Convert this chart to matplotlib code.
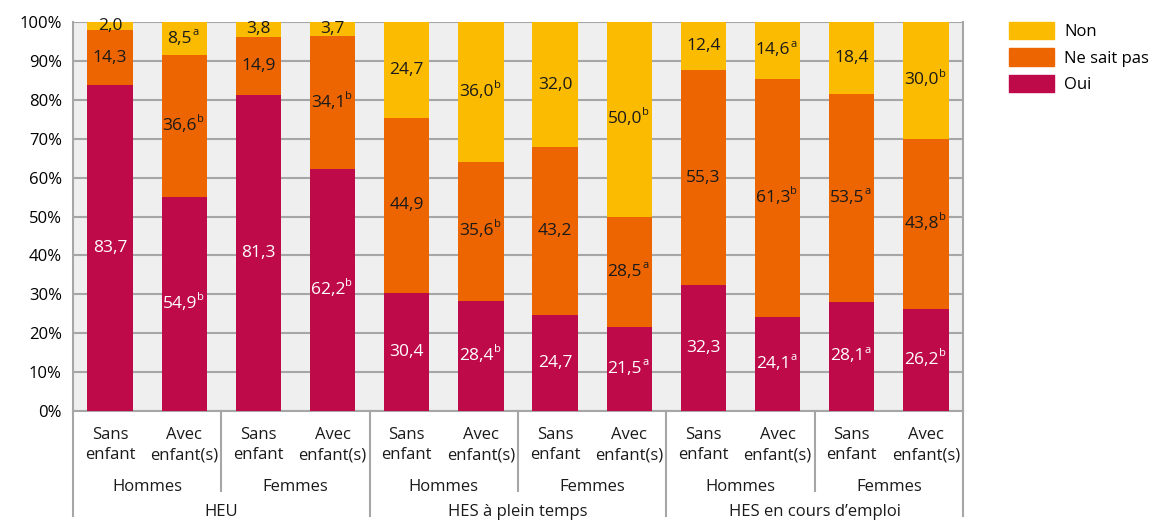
import matplotlib
matplotlib.use("Agg")
import matplotlib.pyplot as plt
import numpy as np
from matplotlib.patches import Patch

plt.rcParams['font.family'] = ['Open Sans', 'DejaVu Sans']

subcats = ["Sans\nenfant", "Avec\nenfant(s)"] * 6
genders = ["Hommes", "Femmes"] * 3
groups = ["HEU", "HES à plein temps", "HES en cours d’emploi"]

oui = [83.7, 54.9, 81.3, 62.2, 30.4, 28.4, 24.7, 21.5, 32.3, 24.1, 28.1, 26.2]
nsp = [14.3, 36.6, 14.9, 34.1, 44.9, 35.6, 43.2, 28.5, 55.3, 61.3, 53.5, 43.8]
non = [2.0, 8.5, 3.8, 3.7, 24.7, 36.0, 32.0, 50.0, 12.4, 14.6, 18.4, 30.0]
oui_sup = ["", "b", "", "b", "", "b", "", "a", "", "a", "a", "b"]
nsp_sup = ["", "b", "", "b", "", "b", "", "a", "", "b", "a", "b"]
non_sup = ["", "a", "", "", "", "b", "", "b", "", "a", "", "b"]

c_oui = "#BE0A48"
c_nsp = "#EC6500"
c_non = "#FBBB00"

fig = plt.figure(figsize=(11.53, 5.21), dpi=100)
ax = fig.add_axes([73/1153, 1 - 411/521, 890/1153, 389/521])
ax.set_facecolor("#EFEFEF")

x = np.arange(len(oui))
w = 0.61
oui_a = np.array(oui); nsp_a = np.array(nsp); non_a = np.array(non)
ax.bar(x, oui_a, w, color=c_oui, zorder=3)
ax.bar(x, nsp_a, w, bottom=oui_a, color=c_nsp, zorder=3)
ax.bar(x, non_a, w, bottom=oui_a + nsp_a, color=c_non, zorder=3)

ax.set_xlim(-0.5, len(oui) - 0.5)
ax.set_ylim(0, 100)
ax.set_yticks(np.arange(0, 101, 10))
ax.set_yticklabels([f"{v}%" for v in range(0, 101, 10)], fontsize=12)
ax.tick_params(axis='y', length=0, pad=8)
ax.set_xticks([])
ax.grid(axis='y', color="#A6A6A6", lw=1.5, zorder=1)
ax.set_axisbelow(True)
ax.spines["top"].set_visible(False)
for s in ["left", "right", "bottom"]:
    ax.spines[s].set_color("#A6A6A6")
    ax.spines[s].set_linewidth(1.5)

fs = 12.5

def label(xi, y, val, sup, color):
    txt = f"{val:.1f}".replace(".", ",")
    off = -0.06 if sup else 0
    t = ax.text(xi + off, y, txt, ha='center', va='center', fontsize=fs, color=color, zorder=5)
    if sup:
        ax.annotate(sup, xy=(1.0, 0.55), xycoords=t, fontsize=8, color=color,
                    ha='left', va='bottom', zorder=5)

for i in range(len(oui)):
    label(x[i], oui[i] / 2, oui[i], oui_sup[i], "white")
    label(x[i], oui[i] + nsp[i] / 2, nsp[i], nsp_sup[i], "#1a1a1a")
    label(x[i], oui[i] + nsp[i] + non[i] / 2, non[i], non_sup[i], "#1a1a1a")

trans = ax.get_xaxis_transform()
H = 389.0
def yf(px):
    return (411 - px) / H

for i, s in enumerate(subcats):
    ax.text(x[i], yf(445), s, transform=trans, ha='center', va='center', fontsize=12,
            linespacing=1.35, color="#1a1a1a")
for j, g in enumerate(genders):
    ax.text(2 * j + 0.5, yf(487), g, transform=trans, ha='center', va='center', fontsize=12,
            color="#1a1a1a")
for k, g in enumerate(groups):
    ax.text(4 * k + 1.5, yf(512), g, transform=trans, ha='center', va='center', fontsize=12,
            color="#1a1a1a")

for b in range(0, 13, 2):
    xb = b - 0.5
    ybot = yf(516) if b % 4 == 0 else yf(491)
    ax.plot([xb, xb], [0, ybot], transform=trans, color="#A6A6A6", lw=1.5,
            clip_on=False, zorder=2)

handles = [Patch(color=c_non, label="Non"), Patch(color=c_nsp, label="Ne sait pas"),
           Patch(color=c_oui, label="Oui")]
fig.legend(handles=handles, loc='upper left', bbox_to_anchor=(1009/1153, 1 - 22/521),
           frameon=False, fontsize=12, handlelength=2.7, handleheight=1.2,
           labelspacing=0.5, handletextpad=0.6, borderpad=0, borderaxespad=0)

fig.savefig("out.png", dpi=100)
